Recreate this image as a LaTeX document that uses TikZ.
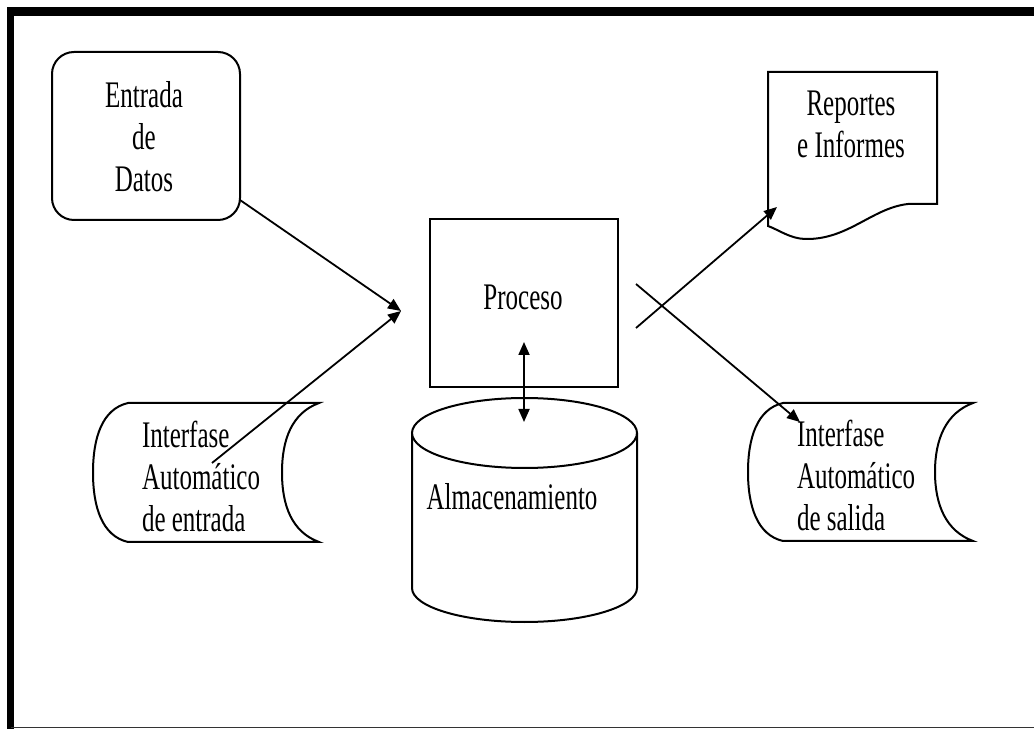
\documentclass[tikz,border=0pt]{standalone}
\usepackage{fontspec}
\newfontfamily\diagfont[FakeStretch=0.667]{Liberation Serif}
\usetikzlibrary{arrows.meta}

\tikzset{
  boxline/.style={draw=black,line width=2pt,fill=white},
  flowline/.style={draw=black,line width=1.8pt,-{Triangle[length=13pt,width=11pt]}},
  lbltext/.style={font=\diagfont\fontsize{37.5}{42}\selectfont,inner sep=0pt,outer sep=0pt},
}

\begin{document}
\begin{tikzpicture}[x=1pt,y=1pt]
\path[use as bounding box,fill=white] (0,0) rectangle (1034,729);

\path[draw=black,line width=8.5pt] (   7.00,717.50) -- (1034.00,717.50);
\path[draw=black,line width=7.5pt] (  10.70,721.75) -- (  10.70,  0.00);
\path[draw=black!80,line width=1.2pt] (  10.70,  1.50) -- (1034.00,  1.50);

\node[boxline,rounded corners=22pt,minimum width=188,minimum height=168,inner sep=0pt] (entrada) at (146.00,593.00) {};
\node[lbltext,align=center] (entradalbl) at (144.00,592.80) {Entrada\\de\\Datos};

\node[boxline,minimum width=188,minimum height=168,inner sep=0pt] (proceso) at (524.00,426.00) {};
\node[lbltext,anchor=base] (procesolbl) at (523.00,419.00) {Proceso};

\path[boxline] (768.00,657.00) -- (937.00,657.00) -- (937.00,525.00) -- (908.00,525.00)
  .. controls (872.00,521.00) and (848.00,489.00) .. (805.00,490.00)
  .. controls (790.00,490.50) and (779.00,499.00) .. (768.00,503.00) -- cycle;
\node[lbltext,align=center] (reporteslbl) at (851.00,605.00) {Reportes\\e Informes};

\path[boxline] (412.00,296.00) -- (412.00,141.00)
  arc[start angle=180,end angle=360,x radius=112.5,y radius=34] -- (637.00,296.00);
\path[boxline] (524.50,296.00) ellipse[x radius=112.5,y radius=35];
\node[lbltext,anchor=base] (almacenlbl) at (512.00,219.00) {Almacenamiento};

\path[boxline] (128.00,326.00) -- (319.00,326.00)
  .. controls (292.00,316.00) and (282.00,290.00) .. (282.00,256.50)
  .. controls (282.00,223.00) and (292.00,197.00) .. (319.00,187.00) -- (128.00,187.00)
  .. controls (102.00,193.00) and ( 93.00,222.00) .. ( 93.00,256.50)
  .. controls ( 93.00,291.00) and (102.00,320.00) .. cycle;
\node[lbltext,align=left,anchor=west] (entradaautolbl) at (142.00,252.80) {Interfase\\Automático\\de entrada};

\path[boxline] (783.00,326.00) -- (973.00,326.00)
  .. controls (946.00,316.00) and (935.00,290.00) .. (935.00,257.00)
  .. controls (935.00,224.00) and (946.00,198.00) .. (973.00,188.00) -- (783.00,188.00)
  .. controls (757.00,194.00) and (748.00,223.00) .. (748.00,257.00)
  .. controls (748.00,291.00) and (757.00,320.00) .. cycle;
\node[lbltext,align=left,anchor=west] (salidaautolbl) at (797.00,253.50) {Interfase\\Automático\\de salida};

\coordinate (entradaout) at (240.00,529.00);
\coordinate (autoout)    at (212.00,266.00);
\coordinate (procin)     at (401.00,418.00);
\coordinate (procout1)   at (636.00,401.00);
\coordinate (procout2)   at (636.00,445.00);
\coordinate (reportesin) at (777.00,522.00);
\coordinate (salidain)   at (800.00,307.00);
\coordinate (procbot)    at (524.00,387.00);
\coordinate (almacentop) at (524.00,307.00);

\draw[flowline] (entradaout) -- (procin);
\draw[flowline] (autoout) -- (procin);
\draw[flowline] (procout1) -- (reportesin);
\draw[flowline] (procout2) -- (salidain);
\draw[flowline,{Triangle[length=13pt,width=11pt]}-{Triangle[length=13pt,width=11pt]}] (procbot) -- (almacentop);
\end{tikzpicture}
\end{document}
